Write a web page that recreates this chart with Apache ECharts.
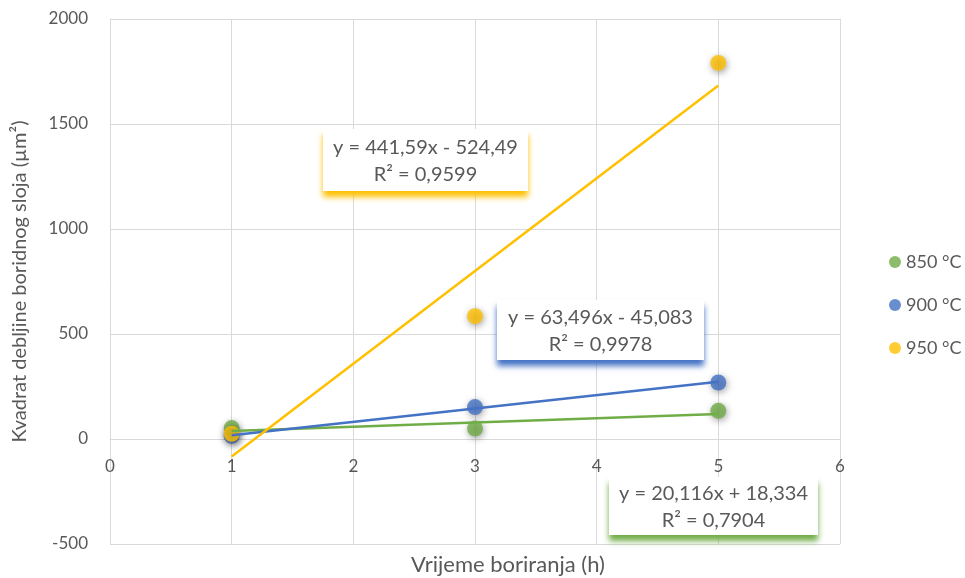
<!DOCTYPE html>
<html>
<head>
<meta charset="utf-8">
<script src="https://cdn.jsdelivr.net/npm/echarts@6/dist/echarts.min.js"></script>
<style>html,body{margin:0;padding:0;background:#fff}#c{width:965px;height:578px}</style>
</head>
<body>
<div id="c"></div>
<script>
// ---- data ----
const seriesNames = ['850 °C', '900 °C', '950 °C'];
const times = [1, 3, 5];
const values850 = [52, 50, 134];
const values900 = [15, 152, 269];
const values950 = [25, 585, 1791];
const trendSlopes = [20.116, 63.496, 441.59];
const trendIntercepts = [18.334, -45.083, -524.49];
const trendRange = [1, 5];
const equationTexts = [
  'y = 20,116x + 18,334\nR² = 0,7904',
  'y = 63,496x - 45,083\nR² = 0,9978',
  'y = 441,59x - 524,49\nR² = 0,9599'
];
const xTicks = [0, 6, 1];
const yTicks = [-500, 2000, 500];

const colors = ['#70AD47', '#4472C4', '#FFC000'];
const font = 'Lato, "Open Sans", sans-serif';
const allValues = [values850, values900, values950];

const chart = echarts.init(document.getElementById('c'));

const scatterSeries = allValues.map((vals, i) => ({
  name: seriesNames[i],
  type: 'scatter',
  symbol: 'circle',
  symbolSize: 16,
  z: 2,
  itemStyle: { color: colors[i], shadowBlur: 7, shadowColor: 'rgba(0,0,0,0.45)', shadowOffsetX: 1, shadowOffsetY: 2 },
  data: times.map((t, j) => [t, vals[j]])
}));

const trendSeries = trendSlopes.map((m, i) => ({
  name: seriesNames[i] + ' trend',
  type: 'line',
  showSymbol: false,
  symbol: 'none',
  z: 3,
  silent: true,
  lineStyle: { color: colors[i], width: 2.5 },
  data: trendRange.map(x => [x, m * x + trendIntercepts[i]])
}));

// equation label boxes (layout positions)
const boxes = [
  { left: 609, top: 477, w: 209, h: 58 },
  { left: 497, top: 300, w: 207, h: 60 },
  { left: 323, top: 129, w: 205, h: 62 }
];
const graphics = boxes.map((b, i) => ({
  type: 'group',
  left: b.left, top: b.top,
  z: 100,
  children: [
    { type: 'rect', z: 100, shape: { x: 0, y: 0, width: b.w, height: b.h },
      style: { fill: '#fff', shadowBlur: 6, shadowOffsetY: 6, shadowColor: colors[i] } },
    { type: 'text', z: 101, x: b.w / 2, y: b.h / 2 + 1,
      style: { text: equationTexts[i], fill: '#595959', font: '20px ' + font,
               align: 'center', verticalAlign: 'middle', lineHeight: 27 } }
  ]
}));

chart.setOption({
  animation: false,
  backgroundColor: '#fff',
  color: colors,
  textStyle: { fontFamily: font },
  grid: { left: 110, right: 125, top: 19, bottom: 34, containLabel: false, outerBoundsMode: 'none' },
  legend: {
    data: seriesNames,
    orient: 'vertical',
    left: 884, top: 248,
    icon: 'circle',
    itemWidth: 12, itemHeight: 12, itemGap: 25,
    textStyle: { color: '#595959', fontSize: 18, fontFamily: font }
  },
  xAxis: {
    type: 'value',
    min: xTicks[0], max: xTicks[1], interval: xTicks[2],
    name: 'Vrijeme boriranja (h)',
    nameLocation: 'middle', nameGap: 115,
    nameTextStyle: { color: '#595959', fontSize: 22, padding: [0, 0, 0, 66] },
    offset: -105,
    axisLine: { show: true, onZero: false, lineStyle: { color: '#d9d9d9' } },
    axisTick: { show: false },
    axisLabel: { color: '#595959', fontSize: 17, margin: 19 },
    splitLine: { show: true, lineStyle: { color: '#d9d9d9', width: 1 } }
  },
  yAxis: {
    type: 'value',
    min: yTicks[0], max: yTicks[1], interval: yTicks[2],
    name: 'Kvadrat debljine boridnog sloja (µm²)',
    nameLocation: 'middle', nameGap: 80,
    nameTextStyle: { color: '#595959', fontSize: 20 },
    axisLine: { show: true, lineStyle: { color: '#d9d9d9' } },
    axisTick: { show: false },
    axisLabel: { color: '#595959', fontSize: 17, margin: 22, formatter: v => String(v) },
    splitLine: { show: true, lineStyle: { color: '#d9d9d9', width: 1 } }
  },
  series: scatterSeries.concat(trendSeries),
  graphic: graphics
});
</script>
</body>
</html>
